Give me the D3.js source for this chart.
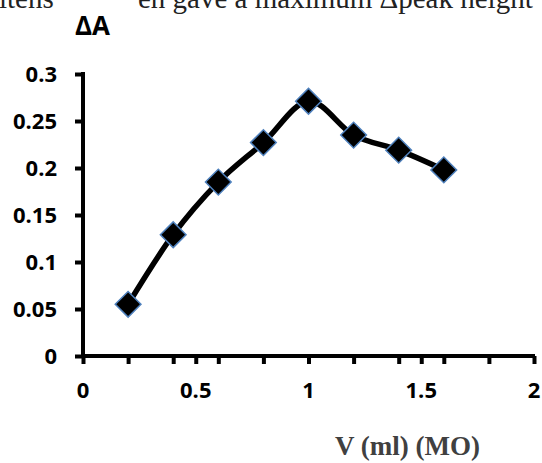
<!DOCTYPE html>
<html>
<head>
<meta charset="utf-8">
<script src="https://cdn.jsdelivr.net/npm/d3@7"></script>
<style>
  body { margin: 0; background: #fff; }
</style>
</head>
<body>
<div id="chart"></div>
<script>
//width and height
var chart_width = 542;
var chart_height = 463;

//data
var volume = [0.2, 0.4, 0.6, 0.8, 1.0, 1.2, 1.4, 1.6];
var delta_a = [0.055, 0.129, 0.185, 0.227, 0.271, 0.235, 0.219, 0.198];

var x_ticks = [0, 0.2, 0.4, 0.5, 0.6, 0.8, 1, 1.2, 1.4, 1.5, 1.6, 1.8, 2];
var x_labels = [0, 0.5, 1, 1.5, 2];
var y_ticks = [0, 0.05, 0.1, 0.15, 0.2, 0.25, 0.3];

var points = volume.map(function(v, i){
    return { v: v, a: delta_a[i] };
});

var x = d3.scaleLinear().domain([0, 2]).range([83, 534]);
var y = d3.scaleLinear().domain([0, 0.3]).range([356, 74]);

var svg = d3.select("#chart")
            .append("svg")
            .attr("width", chart_width)
            .attr("height", chart_height);

//page text cut off above the chart (as in the scan)
svg.append("text")
    .attr("x", -1)
    .attr("y", 8)
    .style("font-family", "'Liberation Serif', 'Times New Roman', serif")
    .style("font-size", "29px")
    .attr("fill", "#222")
    .text("itens");

svg.append("text")
    .attr("x", 138)
    .attr("y", 8)
    .style("font-family", "'Liberation Serif', 'Times New Roman', serif")
    .style("font-size", "29px")
    .attr("fill", "#222")
    .text("en gave a maximum \u0394peak height");

//y axis
var y_axis = d3.axisLeft(y)
    .tickValues(y_ticks)
    .tickSize(8)
    .tickPadding(18)
    .tickFormat(function(d){ return d3.format("")(+d.toFixed(2)); });

var gy = svg.append("g")
    .attr("transform", "translate(" + x(0) + ",0)")
    .call(y_axis);

gy.select(".domain").remove();
gy.append("line")
    .attr("x1", 0).attr("x2", 0)
    .attr("y1", y(0.3) - 2).attr("y2", y(0) + 2)
    .attr("stroke", "#000")
    .attr("stroke-width", 4);

//x axis
var x_axis = d3.axisBottom(x)
    .tickValues(x_ticks)
    .tickSize(8)
    .tickFormat("");

var gx = svg.append("g")
    .attr("transform", "translate(0," + y(0) + ")")
    .call(x_axis);

gx.select(".domain").remove();
gx.append("line")
    .attr("x1", x(0) - 2).attr("x2", x(2) + 1)
    .attr("y1", 0).attr("y2", 0)
    .attr("stroke", "#000")
    .attr("stroke-width", 4);

svg.selectAll("g.tick line")
    .attr("stroke", "#000")
    .attr("stroke-width", 4);

svg.selectAll("g.tick text")
    .style("font-family", "'Open Sans', sans-serif")
    .style("font-weight", "bold")
    .style("font-size", "22px")
    .attr("fill", "#000");

svg.selectAll(".x-label")
    .data(x_labels)
    .enter()
    .append("text")
    .attr("class", "x-label")
    .attr("x", function(d){ return x(d); })
    .attr("y", 398)
    .attr("text-anchor", "middle")
    .style("font-family", "'Open Sans', sans-serif")
    .style("font-weight", "bold")
    .style("font-size", "22px")
    .text(function(d){ return d; });

//axis titles
svg.append("text")
    .attr("x", 75)
    .attr("y", 35)
    .style("font-family", "'Open Sans', sans-serif")
    .style("font-weight", "bold")
    .style("font-size", "26px")
    .text("\u0394A");

svg.append("text")
    .attr("x", 335)
    .attr("y", 455)
    .style("font-family", "'Liberation Serif', 'Times New Roman', serif")
    .style("font-weight", "bold")
    .style("font-size", "27px")
    .attr("fill", "#404040")
    .text("V (ml) (MO)");

//smoothed line
var line = d3.line()
    .x(function(d){ return x(d.v); })
    .y(function(d){ return y(d.a); })
    .curve(d3.curveCardinal.tension(0));

svg.append("path")
    .datum(points)
    .attr("d", line)
    .attr("fill", "none")
    .attr("stroke", "#000")
    .attr("stroke-width", 5.5)
    .attr("stroke-linejoin", "round");

//diamond markers
var marker = d3.symbol().type(d3.symbolSquare).size(330);

svg.selectAll(".marker")
    .data(points)
    .enter()
    .append("path")
    .attr("class", "marker")
    .attr("d", marker)
    .attr("transform", function(d){
        return "translate(" + x(d.v) + "," + y(d.a) + ") rotate(45)";
    })
    .attr("fill", "#000")
    .attr("stroke", "#4f81bd")
    .attr("stroke-width", 1.5);
</script>
</body>
</html>
